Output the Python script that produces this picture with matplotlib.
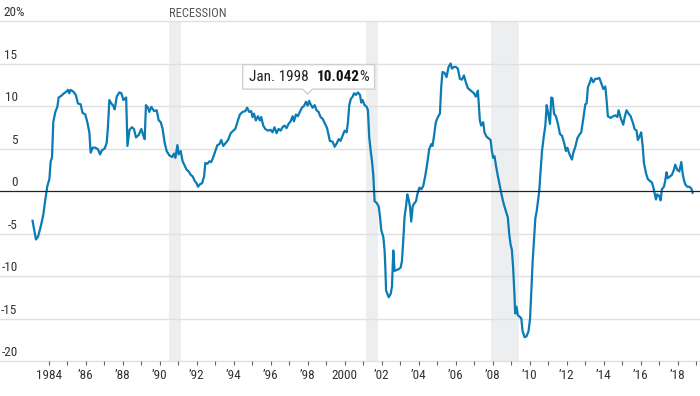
import matplotlib.pyplot as plt
from matplotlib.patches import Polygon
from matplotlib.transforms import IdentityTransform

# decimal year of each reading
dates = [
    1983.13, 1983.31, 1983.42, 1983.57, 1983.71, 1983.82, 1983.93, 1984.04, 1984.11, 1984.18, 1984.25, 1984.36, 1984.47, 1984.54, 1984.68, 1984.83, 1984.97,
    1985.04, 1985.12, 1985.18, 1985.33, 1985.47, 1985.58, 1985.73, 1985.83, 1985.98, 1986.09, 1986.20, 1986.27, 1986.38, 1986.52, 1986.67, 1986.78, 1986.88,
    1987.03, 1987.14, 1987.21, 1987.28, 1987.39, 1987.50, 1987.57, 1987.68, 1987.82, 1987.93, 1988.04, 1988.19, 1988.26, 1988.37, 1988.50, 1988.61, 1988.72, 1988.87,
    1989.01, 1989.12, 1989.19, 1989.26, 1989.37, 1989.44, 1989.55, 1989.70, 1989.84, 1989.95, 1990.06, 1990.16, 1990.27, 1990.38, 1990.52, 1990.67, 1990.78, 1990.85, 1990.96,
    1991.03, 1991.14, 1991.24, 1991.35, 1991.46, 1991.57, 1991.68, 1991.79, 1991.89, 1992.00, 1992.07, 1992.18, 1992.29, 1992.40, 1992.47, 1992.58, 1992.69, 1992.79, 1992.90,
    1993.01, 1993.12, 1993.23, 1993.33, 1993.44, 1993.59, 1993.70, 1993.84, 1993.98, 1994.09, 1994.23, 1994.34, 1994.48, 1994.63, 1994.73, 1994.84, 1994.95,
    1995.02, 1995.10, 1995.20, 1995.31, 1995.42, 1995.49, 1995.60, 1995.71, 1995.85, 1996.00, 1996.10, 1996.21, 1996.32, 1996.43, 1996.54, 1996.64, 1996.75, 1996.86, 1996.97,
    1997.08, 1997.19, 1997.26, 1997.37, 1997.47, 1997.58, 1997.69, 1997.80, 1997.91, 1998.00, 1998.08, 1998.16, 1998.27, 1998.38, 1998.48, 1998.59, 1998.70, 1998.81, 1998.92,
    1999.05, 1999.20, 1999.35, 1999.46, 1999.57, 1999.68, 1999.78, 1999.89, 2000.00, 2000.11, 2000.18, 2000.25, 2000.33, 2000.43, 2000.51, 2000.61, 2000.72, 2000.83, 2000.90, 2000.97,
    2001.08, 2001.19, 2001.26, 2001.33, 2001.41, 2001.48, 2001.55, 2001.62, 2001.73, 2001.84, 2001.91, 2001.98, 2002.09, 2002.16, 2002.20, 2002.24, 2002.31, 2002.38, 2002.49, 2002.56, 2002.63, 2002.70, 2002.81, 2002.92,
    2003.03, 2003.10, 2003.17, 2003.24, 2003.32, 2003.39, 2003.46, 2003.53, 2003.60, 2003.68, 2003.75, 2003.86, 2003.93, 2004.04, 2004.15, 2004.25, 2004.36, 2004.47, 2004.57, 2004.68, 2004.75, 2004.82, 2004.93,
    2005.04, 2005.15, 2005.22, 2005.29, 2005.40, 2005.51, 2005.62, 2005.73, 2005.80, 2005.91, 2006.01, 2006.12, 2006.23, 2006.34, 2006.45, 2006.55, 2006.66, 2006.77, 2006.88, 2006.99,
    2007.09, 2007.20, 2007.24, 2007.31, 2007.38, 2007.49, 2007.56, 2007.67, 2007.78, 2007.89, 2007.96, 2008.03, 2008.10, 2008.18, 2008.28, 2008.39, 2008.50, 2008.61, 2008.72, 2008.82, 2008.90, 2008.97,
    2009.04, 2009.11, 2009.18, 2009.22, 2009.29, 2009.36, 2009.47, 2009.55, 2009.62, 2009.73, 2009.83, 2009.94, 2010.02, 2010.09, 2010.16, 2010.23, 2010.31, 2010.38, 2010.45, 2010.52, 2010.59, 2010.67, 2010.77, 2010.85, 2010.92, 2010.99,
    2011.10, 2011.17, 2011.24, 2011.32, 2011.42, 2011.53, 2011.64, 2011.75, 2011.86, 2011.96, 2012.04, 2012.11, 2012.18, 2012.29, 2012.36, 2012.47, 2012.58, 2012.68, 2012.79, 2012.90,
    2013.01, 2013.08, 2013.15, 2013.26, 2013.33, 2013.44, 2013.55, 2013.66, 2013.77, 2013.87, 2013.98, 2014.09, 2014.16, 2014.23, 2014.38, 2014.52, 2014.63, 2014.74, 2014.81, 2014.92,
    2015.06, 2015.14, 2015.24, 2015.35, 2015.46, 2015.60, 2015.67, 2015.78, 2015.85, 2015.96, 2016.03, 2016.11, 2016.18, 2016.29, 2016.39, 2016.50, 2016.61, 2016.68, 2016.75, 2016.83, 2016.90,
    2017.01, 2017.08, 2017.15, 2017.26, 2017.33, 2017.40, 2017.47, 2017.58, 2017.69, 2017.80, 2017.87, 2017.98, 2018.09, 2018.20, 2018.27, 2018.34, 2018.41, 2018.52, 2018.63, 2018.74, 2018.81,
]

# year-over-year change, percent
pct_change = [
    -3.5, -5.7, -5.4, -4.2, -2.8, -1.0, 0.6, 1.4, 3.5, 3.9, 8.1, 9.3, 9.9, 11.0, 11.2, 11.5, 11.7,
    11.9, 11.5, 11.9, 11.7, 11.3, 10.3, 10.2, 9.2, 9.0, 8.1, 6.9, 4.5, 5.1, 5.1, 4.9, 4.3, 4.8,
    5.0, 5.7, 7.7, 10.7, 10.3, 10.0, 9.6, 11.1, 11.6, 11.5, 10.7, 11.0, 5.3, 7.2, 7.5, 7.3, 6.3, 6.6,
    7.3, 6.5, 6.1, 10.1, 9.8, 9.3, 9.9, 9.4, 9.5, 8.3, 8.1, 7.3, 5.7, 4.7, 4.2, 4.0, 4.4, 3.9, 5.4,
    4.3, 4.7, 3.5, 3.0, 2.5, 2.3, 1.9, 1.7, 1.2, 0.9, 0.5, 0.8, 0.9, 1.7, 3.3, 3.2, 3.5, 3.4, 4.0,
    4.7, 5.4, 5.5, 6.0, 5.3, 5.7, 6.0, 6.8, 7.1, 7.3, 8.3, 9.0, 9.3, 9.4, 9.8, 9.3, 9.4,
    8.7, 9.1, 8.3, 8.8, 8.3, 8.7, 7.7, 7.3, 7.1, 7.2, 6.9, 7.5, 6.8, 7.3, 7.1, 7.5, 7.7, 7.4, 7.9,
    8.2, 8.8, 8.2, 9.0, 8.8, 9.3, 9.8, 10.0, 10.5, 10.042, 10.6, 10.2, 9.8, 10.1, 9.5, 9.3, 8.7, 8.5, 8.0,
    7.4, 5.9, 5.8, 5.2, 5.6, 6.1, 5.9, 6.5, 7.1, 6.9, 8.1, 10.1, 10.8, 11.1, 11.5, 11.3, 11.6, 11.3, 10.4, 10.7,
    10.1, 9.9, 9.5, 6.3, 4.7, 3.5, 1.8, -1.2, -1.4, -1.8, -3.0, -4.6, -5.4, -7.0, -9.0, -11.7, -12.1, -12.5, -12.1, -11.2, -7.0, -9.4, -9.3, -9.2,
    -9.0, -8.2, -5.8, -3.0, -1.8, -0.4, -1.0, -1.8, -3.6, -1.8, -1.5, -1.2, -0.4, 0.4, 0.2, 0.6, 1.8, 3.3, 4.9, 5.5, 5.3, 6.3, 8.1,
    8.7, 9.1, 12.2, 14.0, 13.9, 13.4, 14.6, 15.0, 14.4, 14.6, 14.6, 14.4, 13.2, 13.1, 13.6, 12.8, 12.1, 11.9, 11.7, 11.5,
    11.1, 11.8, 10.6, 8.3, 7.7, 8.1, 6.9, 6.4, 6.2, 6.0, 4.7, 3.9, 4.1, 3.0, 1.8, 0.6, -0.6, -1.6, -2.4, -3.1, -5.1, -6.3,
    -6.9, -9.1, -12.2, -14.4, -13.6, -14.6, -14.8, -15.0, -16.5, -17.2, -17.1, -16.5, -15.1, -11.9, -8.4, -6.0, -3.2, -2.4, -1.2, 0.0, 2.3, 4.7, 6.5, 7.7, 10.1, 9.3,
    7.9, 11.0, 10.9, 9.1, 8.8, 7.9, 6.7, 6.5, 5.7, 4.7, 5.1, 4.6, 4.2, 3.7, 4.5, 5.2, 6.2, 6.6, 6.9, 8.5,
    10.2, 10.3, 12.2, 12.8, 13.3, 12.8, 13.2, 13.2, 13.3, 12.7, 12.0, 12.3, 10.7, 8.8, 8.6, 8.8, 8.9, 8.7, 9.5, 8.6,
    7.8, 8.7, 9.5, 9.1, 8.8, 7.9, 7.3, 7.1, 6.0, 6.5, 6.9, 5.3, 3.3, 2.1, 1.4, 1.2, 1.0, 0.5, -0.2, -1.0, -0.4,
    -0.6, -1.1, 0.2, 0.5, 1.2, 2.2, 1.5, 1.7, 1.9, 2.5, 3.1, 2.5, 2.3, 3.4, 2.1, 1.3, 0.8, 0.5, 0.5, 0.3, -0.2,
]

recessions = [(1990.5, 1991.17), (2001.17, 2001.83), (2007.92, 2009.42)]

tick_years = list(range(1984, 2020))
label_years = list(range(1984, 2019, 2))
x_labels = ["1984", "\u201986", "\u201988", "\u201990", "\u201992", "\u201994", "\u201996",
            "\u201998", "2000", "\u201902", "\u201904", "\u201906", "\u201908", "\u201910",
            "\u201912", "\u201914", "\u201916", "\u201918"]
y_ticks = [20, 15, 10, 5, 0, -5, -10, -15, -20]
y_labels = ["20%", "15", "10", "5", "0", "-5", "-10", "-15", "-20"]

highlight_label = "Jan. 1998"
highlight_date = 1998.0
highlight_value = 10.042

LINE = "#0a7bb5"
TEXT = "#333333"

plt.rcParams["font.family"] = ["Liberation Sans Narrow", "Noto Sans Condensed",
                               "Roboto Condensed", "Open Sans Condensed",
                               "Liberation Sans", "DejaVu Sans"]
plt.rcParams["font.stretch"] = "condensed"

fig = plt.figure(figsize=(7, 3.96), dpi=100)
ax = fig.add_axes([0, 35 / 396, 1, 340 / 396])
ax.set_xlim(1981.37, 2019.21)
ax.set_ylim(-20, 20)

for a, b in recessions:
    ax.axvspan(a, b, color="#eceef0", lw=0, zorder=0)
ax.text(recessions[0][0], 20.15, "RECESSION", fontsize=9, color="#555555",
        ha="left", va="bottom", clip_on=False)

# gridlines + y labels sitting just above them
ylab_tf = ax.get_yaxis_transform()
for v, lab in zip(y_ticks, y_labels):
    if v == 0:
        ax.axhline(v, color="#222222", lw=0.9, zorder=4)
    else:
        ax.axhline(v, color="#e0e0e0", lw=1, zorder=1, clip_on=False)
    if v == 20:
        ax.text(3 / 700, v + 0.2, lab, transform=ylab_tf, ha="left", va="bottom",
                fontsize=9.5, color=TEXT)
    else:
        ax.text(17.5 / 700, v + 0.2, lab, transform=ylab_tf, ha="right", va="bottom",
                fontsize=9.5, color=TEXT)

ax.plot(dates, pct_change, color=LINE, lw=1.6, solid_joinstyle="round", zorder=3)

ax.set_xticks(label_years)
ax.set_xticklabels(x_labels)
ax.set_xticks([y for y in tick_years if y not in label_years], minor=True)
ax.tick_params(axis="x", which="both", length=3, width=0.8, color="#666666",
               pad=2.5, labelsize=9.5, labelcolor=TEXT)
ax.set_yticks([])
for s in ax.spines.values():
    s.set_visible(False)

# tooltip box pointing at the highlighted month
renderer = fig.canvas.get_renderer()
px, py = ax.transData.transform((highlight_date, highlight_value))
bottom, top = py + 16.5, py + 41
tip = py + 11.5
mid = (bottom + top) / 2
parts = [
    fig.text(0, mid, highlight_label, fontsize=11, color="#222222"),
    fig.text(0, mid, f"{highlight_value:.3f}", fontsize=11, fontweight="bold", color="#111111"),
    fig.text(0, mid, "%", fontsize=11, color="#222222"),
]
gaps = [0, 8, -0.5]
widths = []
for t in parts:
    t.set_transform(IdentityTransform())
    t.set_va("center")
    t.set_ha("left")
    t.set_zorder(11)
    widths.append(t.get_window_extent(renderer).width)
content = sum(widths) + sum(gaps)
left = px + 1 - (content + 12) / 2
right = left + content + 12
x = left + 6
for t, g, w in zip(parts, gaps, widths):
    x += g
    t.set_x(x)
    x += w

box = Polygon([(left, bottom), (px - 5, bottom), (px, tip), (px + 5, bottom),
               (right, bottom), (right, top), (left, top)],
              closed=True, facecolor="white", edgecolor="#cfcfcf", lw=1,
              transform=IdentityTransform(), zorder=10)
fig.add_artist(box)

fig.savefig("out.png", dpi=100)
